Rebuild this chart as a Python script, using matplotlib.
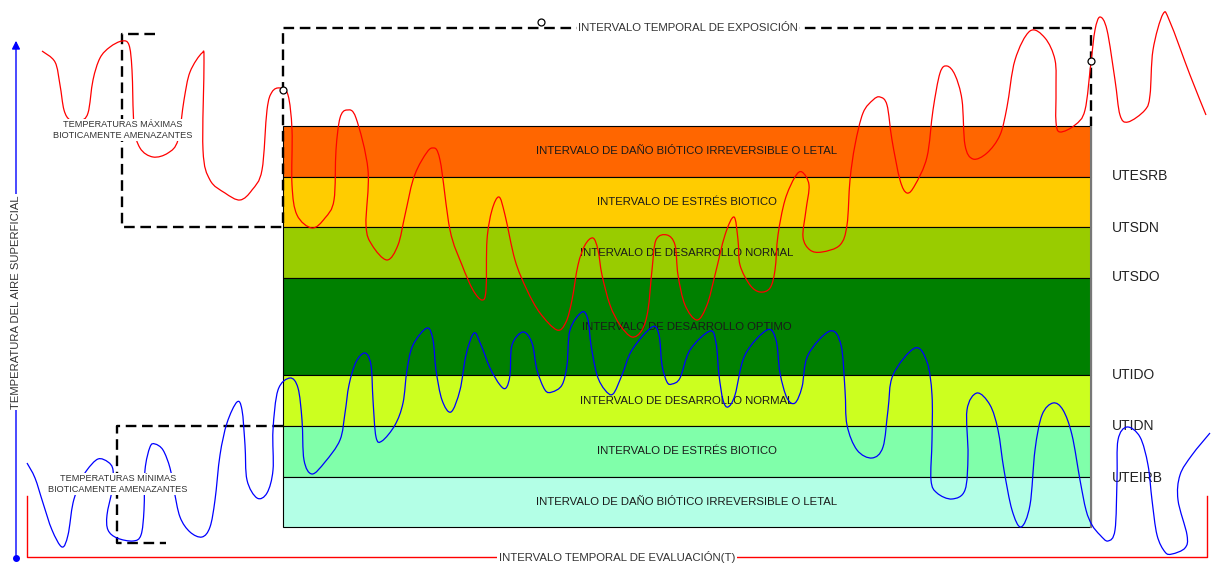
import matplotlib.pyplot as plt
import numpy as np
from matplotlib.path import Path
from matplotlib.patches import PathPatch

plt.rcParams['font.family'] = ['Liberation Sans', 'DejaVu Sans']

# Bands (pixel rows of the original drawing, top to bottom)
band_edges = [126, 177, 227, 278, 375, 426, 477, 527]
band_colors = ["#FF6600", "#FFCC00", "#99CC00", "#008000", "#CCFF1F", "#80FFAA", "#B3FFE6"]
band_labels = [
    "INTERVALO DE DAÑO BIÓTICO IRREVERSIBLE O LETAL",
    "INTERVALO DE ESTRÉS BIOTICO",
    "INTERVALO DE DESARROLLO NORMAL",
    "INTERVALO DE DESARROLLO OPTIMO",
    "INTERVALO DE DESARROLLO NORMAL",
    "INTERVALO DE ESTRÉS BIOTICO",
    "INTERVALO DE DAÑO BIÓTICO IRREVERSIBLE O LETAL",
]
threshold_labels = ["UTESRB", "UTSDN", "UTSDO", "UTIDO", "UTIDN", "UTEIRB"]
threshold_y = [176, 228, 277, 375, 426, 478]

# Maximum temperature trace (red)
red_x = [42, 55, 60, 64, 70, 80, 88, 93, 100, 110, 122, 129, 132, 134, 140, 153, 168, 178, 184, 190,
         202, 204, 203, 210, 225, 240, 252, 262, 267, 272, 280, 288, 292, 292, 297, 312, 325, 334, 336,
         340, 347, 356, 368, 366, 372, 387, 398, 405, 413, 422, 432, 440, 450, 462, 473, 482, 486, 487,
         492, 499, 505, 515, 527, 540, 557, 566, 572, 578, 585, 593, 598, 602, 610, 620, 632, 642, 648,
         652, 656, 667, 675, 678, 685, 697, 707, 715, 725, 734, 738, 740, 750, 760, 770, 775, 778, 785,
         795, 802, 809, 806, 803, 810, 822, 840, 847, 850, 855, 863, 873, 880, 887, 892, 900, 907, 915,
         927, 933, 940, 947, 955, 962, 965, 973, 987, 1000, 1007, 1015, 1030, 1045, 1055, 1056, 1056,
         1060, 1075, 1085, 1091, 1095, 1100, 1107, 1115, 1120, 1128, 1145, 1150, 1153, 1163, 1170, 1190,
         1206]
red_y = [51, 62, 85, 110, 120, 121, 113, 80, 58, 47, 41, 45, 70, 125, 148, 157, 153, 140, 100, 72,
         53, 62, 150, 180, 193, 200, 190, 170, 110, 92, 88, 95, 130, 185, 215, 228, 218, 200, 150,
         118, 110, 118, 170, 225, 245, 260, 245, 215, 180, 160, 148, 160, 230, 265, 290, 300, 290, 240,
         210, 197, 215, 260, 290, 313, 330, 322, 300, 265, 245, 238, 250, 275, 305, 325, 337, 330, 310,
         270, 240, 235, 245, 275, 305, 320, 305, 275, 235, 217, 240, 265, 285, 292, 288, 270, 235, 200,
         177, 172, 185, 210, 237, 250, 252, 245, 225, 180, 145, 113, 100, 97, 105, 140, 180, 193, 185,
         157, 110, 73, 66, 75, 100, 145, 159, 153, 135, 107, 60, 31, 38, 60, 90, 122,
         132, 125, 110, 62, 30, 17, 30, 80, 115, 122, 110, 95, 50, 14, 22, 75,
         115]

# Minimum temperature trace (blue)
blue_x = [27, 35, 43, 52, 62, 68, 73, 80, 87, 98, 108, 113, 112, 107, 108, 117, 133, 141, 144, 145,
          150, 155, 163, 170, 174, 180, 190, 202, 210, 215, 220, 227, 237, 242, 245, 247, 257, 267, 273,
          273, 278, 290, 298, 302, 304, 312, 325, 340, 345, 349, 356, 365, 371, 373, 376, 382, 395, 403,
          407, 413, 427, 433, 436, 442, 451, 460, 466, 474, 481, 490, 500, 506, 510, 512, 523, 532, 537,
          545, 552, 562, 567, 570, 582, 588, 591, 597, 605, 613, 622, 632, 652, 659, 662, 667, 672, 680,
          690, 710, 716, 719, 723, 728, 735, 745, 767, 776, 780, 787, 795, 802, 808, 830, 841, 845, 847,
          857, 872, 883, 888, 893, 915, 927, 932, 932, 931, 937, 952, 965, 968, 967, 977, 990, 998, 1004,
          1012, 1021, 1030, 1035, 1042, 1053, 1063, 1072, 1080, 1086, 1092, 1100, 1108, 1115, 1117, 1118,
          1127, 1140, 1148, 1152, 1157, 1165, 1172, 1185, 1187, 1178, 1180, 1192, 1210]
blue_y = [463, 478, 503, 530, 547, 535, 503, 483, 470, 459, 462, 470, 490, 515, 530, 538, 541, 535, 510, 470,
          447, 444, 450, 468, 490, 517, 532, 537, 527, 500, 455, 423, 402, 410, 445, 480, 498, 493, 470,
          430, 390, 378, 388, 420, 460, 474, 462, 440, 413, 385, 362, 353, 365, 400, 437, 441, 425, 403,
          370, 345, 328, 340, 370, 400, 412, 390, 355, 333, 345, 368, 385, 388, 375, 345, 332, 343, 370,
          390, 392, 385, 365, 330, 312, 320, 345, 375, 390, 394, 375, 350, 327, 335, 365, 382, 384, 378,
          350, 331, 343, 375, 400, 407, 395, 355, 330, 340, 373, 398, 403, 387, 355, 331, 345, 390, 425,
          450, 458, 447, 410, 375, 348, 362, 395, 440, 480, 493, 499, 490, 455, 410, 393, 405, 430, 470,
          510, 527, 505, 450, 415, 403, 410, 435, 480, 510, 525, 535, 541, 530, 480, 440,
          427, 437, 465, 500, 535, 552, 554, 548, 535, 500, 475, 455, 433]


def smooth_path(xs, ys):
    # Catmull-Rom control points handed to matplotlib as cubic Bezier segments
    p = np.column_stack([xs, ys]).astype(float)
    ext = np.vstack([p[0], p, p[-1]])
    verts = [p[0]]
    codes = [Path.MOVETO]
    for i in range(1, len(ext) - 2):
        c1 = ext[i] + (ext[i + 1] - ext[i - 1]) / 6
        c2 = ext[i + 1] - (ext[i + 2] - ext[i]) / 6
        verts += [c1, c2, ext[i + 1]]
        codes += [Path.CURVE4] * 3
    return Path(verts, codes)


fig = plt.figure(figsize=(12.12, 5.63), dpi=100)
ax = fig.add_axes([0, 0, 1, 1])
ax.set_xlim(0, 1212)
ax.set_ylim(563, 0)
ax.axis("off")

x_left, x_right = 283, 1091
tops = np.array(band_edges[:-1])
heights = np.diff(band_edges)
ax.barh(tops + heights / 2, x_right - x_left, height=heights, left=x_left,
        color=band_colors, edgecolor="black", linewidth=0.8, zorder=1)
ax.plot([x_right, x_right], [band_edges[0], band_edges[-1]], color="#777777", lw=1.5, zorder=1.5)
for yc, lab in zip(tops + heights / 2, band_labels):
    ax.text((x_left + x_right) / 2, yc, lab, ha="center", va="center", fontsize=8.2,
            color="#1a1a1a", zorder=2)

for yt, lab in zip(threshold_y, threshold_labels):
    ax.text(1112, yt, lab, ha="left", va="center", fontsize=10, color="#222222", zorder=2)

# Dashed exposure frames
dash = dict(color="black", lw=1.7, linestyle=(0, (4.5, 2.4)), zorder=3)
ax.plot([155, 122, 122, 283, 283, 1091, 1091], [34, 34, 227, 227, 28, 28, 126], **dash)
ax.plot([283, 117, 117, 166], [426, 426, 543, 543], **dash)

# Temperature traces
ax.add_patch(PathPatch(smooth_path(red_x, red_y), fill=False, edgecolor="red", lw=0.9, zorder=4))
ax.add_patch(PathPatch(smooth_path(blue_x, blue_y), fill=False, edgecolor="blue", lw=0.9, zorder=4))

# Circle markers on the frame
ax.plot([283, 541, 1091], [90, 22, 61], "o", ms=5, mfc="white", mec="black", mew=0.9, zorder=5)

ax.text(688, 28, "INTERVALO TEMPORAL DE EXPOSICIÓN", ha="center", va="center", fontsize=8.2,
        color="#333333", zorder=6, bbox=dict(fc="white", ec="none", pad=1))

# Evaluation interval (red bracket)
ax.plot([27, 27, 1207, 1207], [496, 557, 557, 496], color="red", lw=1, zorder=3)
ax.text(617, 557, "INTERVALO TEMPORAL DE EVALUACIÓN(T)", ha="center", va="center", fontsize=8.2,
        color="#333333", zorder=6, bbox=dict(fc="white", ec="none", pad=1))

# Vertical temperature axis
ax.annotate("", xy=(16, 38), xytext=(16, 558),
            arrowprops=dict(arrowstyle="-|>", color="blue", lw=1, mutation_scale=12), zorder=3)
ax.plot(16, 558, "o", color="blue", ms=4, zorder=4)
ax.text(16, 302, "TEMPERATURA DEL AIRE SUPERFICIAL", rotation=90, ha="center", va="center",
        fontsize=8.1, color="#333333", zorder=6, bbox=dict(fc="white", ec="none", pad=1))

ax.text(123, 130, "TEMPERATURAS MÁXIMAS\nBIOTICAMENTE AMENAZANTES", ha="center", va="center",
        fontsize=6.6, color="#333333", linespacing=1.3, zorder=6,
        bbox=dict(fc="white", ec="none", pad=0.5))
ax.text(118, 484, "TEMPERATURAS MÍNIMAS\nBIOTICAMENTE AMENAZANTES", ha="center", va="center",
        fontsize=6.6, color="#333333", linespacing=1.3, zorder=6,
        bbox=dict(fc="white", ec="none", pad=0.5))

fig.savefig("out.png", dpi=100)
